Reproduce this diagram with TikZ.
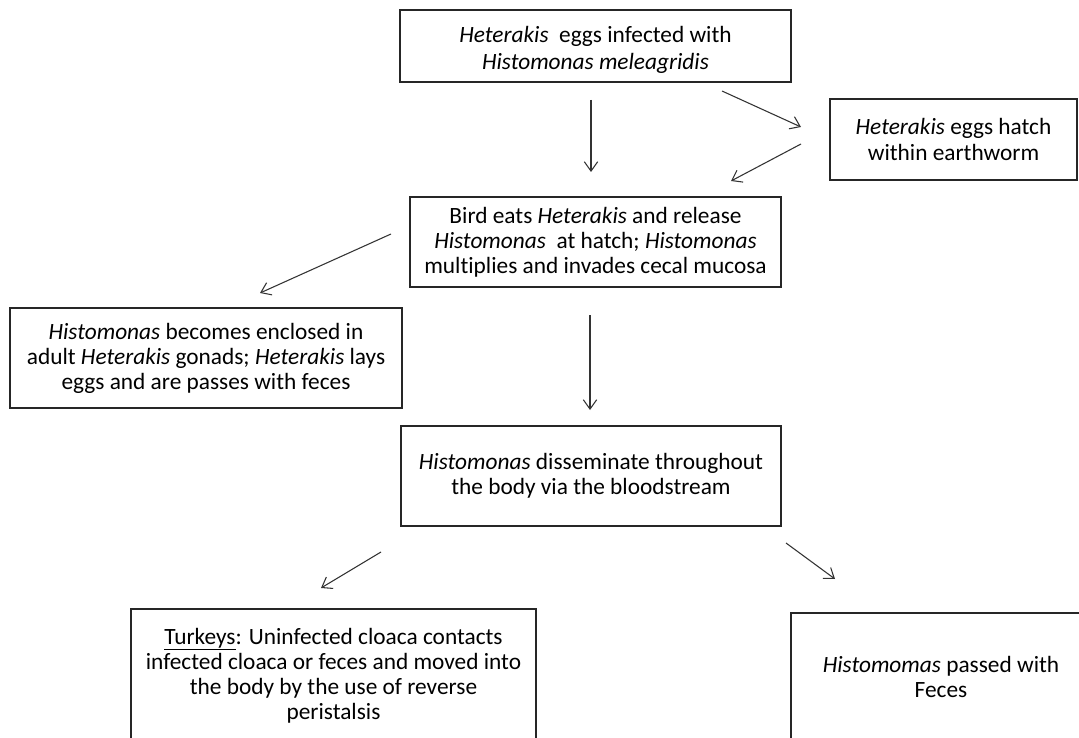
\documentclass[tikz,border=0pt]{standalone}
\usepackage{fontspec}
\setmainfont[Ligatures=NoCommon]{Carlito}
\usetikzlibrary{arrows.meta}
\begin{document}
\begin{tikzpicture}[x=0.75pt,y=-0.75pt,
  box/.style={draw=black!85,line width=2pt,rectangle,align=center,inner sep=0pt,
    font=\fontsize{17.5}{18.8}\selectfont},
  arr/.style={draw=black!80,line width=0.8pt,-{Straight Barb[length=7pt,width=10pt]}}]
\clip (0,0) rectangle (1079,738);
\fill[white] (0,0) rectangle (1079,738);
\node[box,minimum width=391*0.75pt,minimum height=72*0.75pt] (b1) at (595.5,46) {};
\node[box,minimum width=247*0.75pt,minimum height=81*0.75pt] (ew) at (953.5,139.5) {\textit{Heterakis} eggs hatch\\within earthworm};
\node[box,minimum width=371*0.75pt,minimum height=90*0.75pt] (bird) at (595.5,242) {Bird eats \textit{Heterakis} and release\\\textit{Histomonas}\ \ at hatch; \textit{Histomonas}\\multiplies and invades cecal mucosa};
\node[box,minimum width=392*0.75pt,minimum height=100*0.75pt] (enc) at (206,358) {\textit{Histomonas} becomes enclosed in\\adult \textit{Heterakis} gonads; \textit{Heterakis} lays\\eggs and are passes with feces};
\node[box,minimum width=380*0.75pt,minimum height=100*0.75pt] (dis) at (591,476) {\textit{Histomonas} disseminate throughout\\the body via the bloodstream};
\node[box,minimum width=405*0.75pt,minimum height=133*0.75pt] (tur) at (333.5,675.5) {\underline{Turkeys}: Uninfected cloaca contacts\\infected cloaca or feces and moved into\\the body by the use of reverse\\peristalsis};
\node[box,minimum width=300*0.75pt,minimum height=128*0.75pt] (pas) at (941,677) {\textit{Histomomas} passed with\\Feces};
\node[align=center,inner sep=0pt,font=\fontsize{17.5}{20}\selectfont] (b1t) at (595.5,50) {\textit{Heterakis}\ \ eggs infected with\\\textit{Histomonas meleagridis}};
\coordinate (a1s) at (591,100); \coordinate (a1e) at (591,172);
\coordinate (a2s) at (722,91); \coordinate (a2e) at (801,127);
\coordinate (a3s) at (801,144); \coordinate (a3e) at (731,181);
\coordinate (a4s) at (391,234); \coordinate (a4e) at (260,293);
\coordinate (a5s) at (590,315); \coordinate (a5e) at (590,410);
\coordinate (a6s) at (381,552); \coordinate (a6e) at (321,588);
\coordinate (a7s) at (786,543); \coordinate (a7e) at (835,579);
\draw[arr] (a1s) -- (a1e);
\draw[arr] (a2s) -- (a2e);
\draw[arr] (a3s) -- (a3e);
\draw[arr] (a4s) -- (a4e);
\draw[arr] (a5s) -- (a5e);
\draw[arr] (a6s) -- (a6e);
\draw[arr] (a7s) -- (a7e);
\end{tikzpicture}
\end{document}
